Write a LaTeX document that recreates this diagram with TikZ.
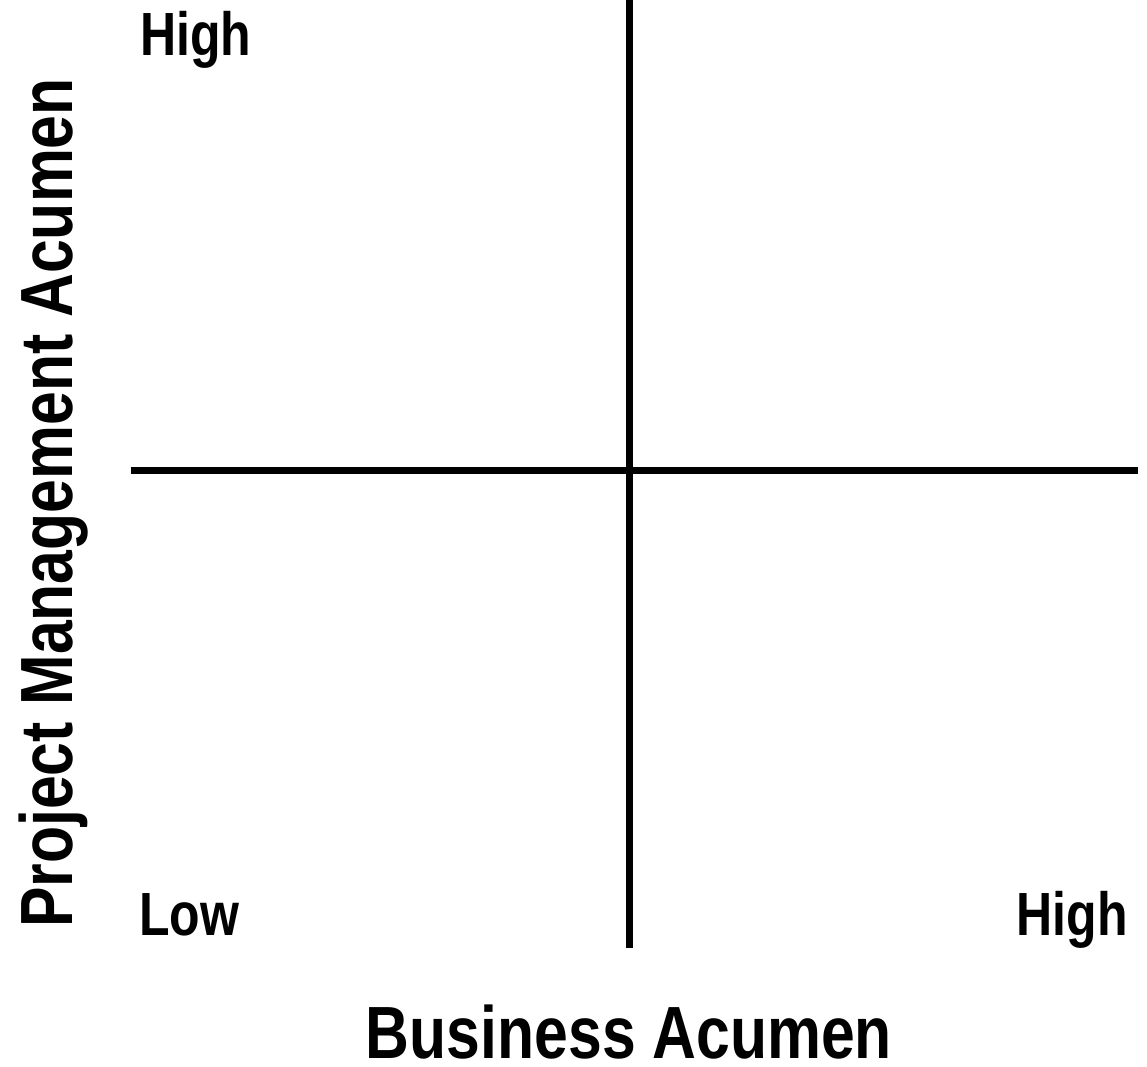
\documentclass[tikz,border=0pt]{standalone}
\usepackage{fontspec}
\newfontfamily\lab[FakeStretch=0.82]{Liberation Sans Bold}
\begin{document}
\begin{tikzpicture}[x=1pt,y=-1pt,
  axisline/.style={line width=7pt,black},
  tick/.style={inner sep=0pt,font=\lab\fontsize{61}{61}\selectfont},
  axislabel/.style={inner sep=0pt,text depth=0pt,font=\lab\fontsize{74}{74}\selectfont}]
  \useasboundingbox (0,0) rectangle (1147,1066);
  % quadrant axes
  \coordinate (vtop) at (629,0);
  \coordinate (vbot) at (629,948);
  \coordinate (hleft) at (131,470);
  \coordinate (hright) at (1138,470);
  \draw[axisline] (vtop) -- (vbot);
  \draw[axisline] (hleft) -- (hright);
  % scale end labels
  \node[tick,anchor=base west] (yhigh) at (140,55) {High};
  \node[tick,anchor=base west] (low) at (139,935) {Low};
  \node[tick,anchor=base east] (xhigh) at (1128,935) {High};
  % axis titles
  \node[axislabel,anchor=base] (xtitle) at (629,1058) {Business Acumen};
  \node[axislabel,anchor=base,rotate=90] (ytitle) at (72,503) {Project Management Acumen};
\end{tikzpicture}
\end{document}
